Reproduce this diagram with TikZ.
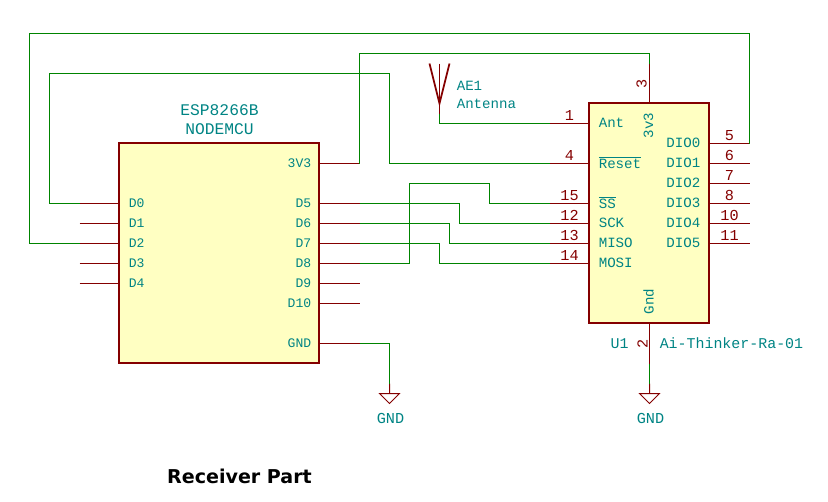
\documentclass[tikz,border=0pt]{standalone}
\usepackage{fontspec}
\setmonofont{Liberation Mono}
\newfontfamily\titlefont{DejaVu Sans}
\definecolor{pinred}{HTML}{840000}
\definecolor{nettext}{HTML}{008484}
\definecolor{wiregreen}{HTML}{008400}
\definecolor{chipfill}{HTML}{FFFFC2}
\tikzset{
    wire/.style={draw=wiregreen, line width=0.75pt},
    pinline/.style={draw=pinred, line width=0.75pt},
    chipbox/.style={draw=pinred, fill=chipfill, line width=1.5pt, inner sep=0pt, outer sep=0pt},
    pinname/.style={text=nettext, inner sep=0pt, font=\ttfamily\fontsize{9.8}{10}\selectfont},
    loraname/.style={pinname, font=\ttfamily\fontsize{10.6}{11}\selectfont},
    partname/.style={text=nettext, inner sep=0pt, font=\ttfamily\fontsize{12.2}{13}\selectfont},
    pinnum/.style={text=pinred, inner sep=0pt, font=\ttfamily\fontsize{11.4}{12}\selectfont}
}

\begin{document}
\begin{tikzpicture}[x=0.75pt, y=-0.75pt]
    \useasboundingbox (0,0) rectangle (828,501);
    \begin{scope}[shift={(0.5,0.5)}]
    % the two chips
    \node[chipbox, minimum width=150pt, minimum height=165pt] (esp) at (218.5,252.5) {};
    \node[chipbox, minimum width=90pt, minimum height=165pt] (lora) at (648.5,212.5) {};
    \node[partname] (espname) at (219,110) {ESP8266B};
    \node[partname] (espboard) at (219,129) {NODEMCU};
    % ESP8266 pins
    \foreach \p/\y in {D0/203,D1/223,D2/243,D3/263,D4/283} {
    \coordinate (\p) at (79,\y);
    \draw[pinline] (\p) -- (119,\y);
    \node[pinname, anchor=west] (name\p) at (128,\y) {\p};
    }
    \foreach \p/\y in {3V3/163,D5/203,D6/223,D7/243,D8/263,D9/283,D10/303,GND/343} {
    \coordinate (\p) at (359,\y);
    \draw[pinline] (\p) -- (319,\y);
    \node[pinname, anchor=east] (name\p) at (311,\y) {\p};
    }
    % LoRa pins, left side
    \foreach \p/\n/\y/\t in {Ant/1/123/Ant,Reset/4/163/$\overline{\mbox{Reset}}$,SS/15/203/$\overline{\mbox{SS}}$,SCK/12/223/SCK,MISO/13/243/MISO,MOSI/14/263/MOSI} {
    \coordinate (\p) at (549,\y);
    \draw[pinline] (\p) -- (589,\y);
    \node[pinnum, anchor=base] (num\p) at (569,\y-3) {\n};
    \node[loraname, anchor=west] (name\p) at (598,\y-1) {\t};
    }
    % LoRa pins, right side
    \foreach \p/\n/\y in {DIO0/5/143,DIO1/6/163,DIO2/7/183,DIO3/8/203,DIO4/10/223,DIO5/11/243} {
    \coordinate (\p) at (749,\y);
    \draw[pinline] (\p) -- (709,\y);
    \node[pinnum, anchor=base] (num\p) at (729,\y-3) {\n};
    \node[loraname, anchor=east] (name\p) at (700,\y-1) {\p};
    }
    % LoRa pins, top and bottom
    \coordinate (Vcc) at (649,63);
    \coordinate (Gnd) at (649,363);
    \draw[pinline] (Vcc) -- (Vcc |- lora.north);
    \draw[pinline] (Gnd) -- (Gnd |- lora.south);
    \node[pinnum, rotate=90] (num3) at (641,83) {3};
    \node[pinnum, rotate=90] (num2) at (642,343) {2};
    \node[loraname, rotate=90] (name3v3) at (648,125) {3v3};
    \node[loraname, rotate=90] (nameGnd) at (648,301) {Gnd};
    \node[partname, font=\ttfamily\fontsize{11.2}{12}\selectfont] (ref) at (619,343) {U1};
    \node[partname, font=\ttfamily\fontsize{11.2}{12}\selectfont, anchor=west] (part) at (659,343) {Ai-Thinker-Ra-01};
    % antenna
    \coordinate (AntTip) at (439,103);
    \coordinate (AntEnd) at (439,113);
    \draw[pinline, line width=1.3pt] (429,63) -- (AntTip) -- (449,63);
    \draw[pinline, line width=1.3pt] (439,63) -- (AntTip);
    \draw[pinline] (AntTip) -- (AntEnd);
    \node[loraname, anchor=west] (ae) at (456,85) {AE1};
    \node[loraname, anchor=west] (antname) at (456,103) {Antenna};
    % ground symbols
    \foreach \g/\x in {gndA/389,gndB/649} {
    \coordinate (\g) at (\x,383);
    \draw[pinline] (\g) -- ++(0,10) -- ++(-10,0) -- ++(10,10) -- ++(10,-10) -- ++(-10,0);
    \node[partname, font=\ttfamily\fontsize{11.4}{12}\selectfont] (label\g) at (\x+1,418) {GND};
    }
    % nets
    \draw[wire] (D2) -| (29,33) -| (DIO0);
    \draw[wire] (D0) -| (49,73) -| (389,163) -- (Reset);
    \draw[wire] (3V3) |- (649,53) -- (Vcc);
    \draw[wire] (D5) -| (459,223) -- (SCK);
    \draw[wire] (D6) -| (449,243) -- (MISO);
    \draw[wire] (D7) -| (439,263) -- (MOSI);
    \draw[wire] (D8) -| (409,183) -| (489,203) -- (SS);
    \draw[wire] (AntEnd) |- (Ant);
    \draw[wire] (GND) -| (gndA);
    \draw[wire] (Gnd) -- (gndB);
    \node[font=\titlefont\bfseries\fontsize{14.3}{15}\selectfont, inner sep=0pt] (title) at (239,476) {Receiver Part};
    \end{scope}
\end{tikzpicture}
\end{document}
